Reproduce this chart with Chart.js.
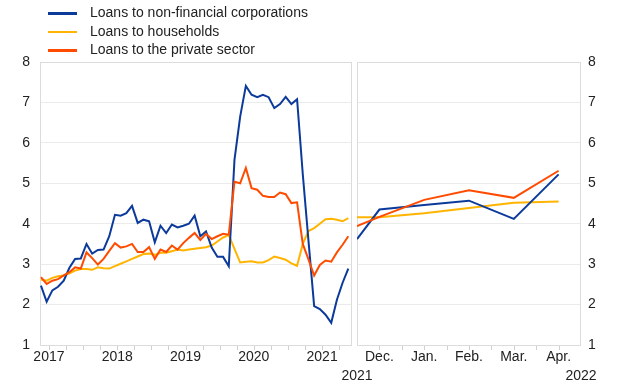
<!DOCTYPE html>
<html>
<head>
<meta charset="utf-8">
<script src="https://cdn.jsdelivr.net/npm/chart.js@4.4.1/dist/chart.umd.min.js"></script>
<style>
  body { margin: 0; background: #fff; width: 620px; height: 387px; overflow: hidden; position: relative;
         font-family: "Liberation Sans", Arial, sans-serif; }
  #left { position: absolute; left: 0; top: 0; }
  #right { position: absolute; left: 330px; top: 0; }
  .legend { position: absolute; left: 48px; top: 3px; font-size: 14px; color: #222; }
  .legend div { height: 18.5px; line-height: 18.5px; white-space: nowrap; }
  .legend span { display: inline-block; width: 29px; height: 2.5px; vertical-align: middle; margin-right: 13px; }
</style>
</head>
<body>
<canvas id="left" width="355" height="387"></canvas>
<canvas id="right" width="290" height="387"></canvas>
<div class="legend" id="legend"></div>
<script>
// monthly growth rates, left panel (May 2017 - Nov 2021)
const nfcLeft = [2.47, 2.07, 2.35, 2.44, 2.59, 2.91, 3.13, 3.14, 3.50, 3.26, 3.35, 3.36, 3.69, 4.22, 4.20, 4.26, 4.44, 4.02, 4.10, 4.06,
  3.54, 3.95, 3.77, 3.98, 3.91, 3.95, 4.00, 4.20, 3.69, 3.81, 3.41, 3.18, 3.18, 2.95, 5.58, 6.65, 7.41, 7.19, 7.13, 7.19,
  7.13, 6.86, 6.96, 7.14, 6.96, 7.08, 5.23, 3.58, 1.96, 1.89, 1.75, 1.55, 2.12, 2.54, 2.89]
const hhLeft = [2.62, 2.59, 2.66, 2.70, 2.72, 2.77, 2.84, 2.88, 2.88, 2.86, 2.92, 2.90, 2.89, 2.95, 3.01, 3.07, 3.13, 3.19, 3.25, 3.26,
  3.23, 3.28, 3.28, 3.32, 3.36, 3.34, 3.36, 3.38, 3.40, 3.42, 3.46, 3.56, 3.66, 3.72, 3.38, 3.04, 3.06, 3.07, 3.04, 3.04,
  3.10, 3.19, 3.15, 3.11, 3.02, 2.96, 3.50, 3.82, 3.89, 4.00, 4.11, 4.12, 4.10, 4.06, 4.14]
const psLeft = [2.68, 2.51, 2.59, 2.63, 2.72, 2.80, 2.92, 2.89, 3.29, 3.15, 2.99, 3.13, 3.33, 3.52, 3.41, 3.44, 3.50, 3.30, 3.30, 3.42,
  3.13, 3.36, 3.30, 3.46, 3.36, 3.52, 3.65, 3.77, 3.60, 3.75, 3.62, 3.69, 3.75, 3.73, 5.04, 5.00, 5.38, 4.88, 4.84, 4.69,
  4.66, 4.66, 4.77, 4.73, 4.51, 4.53, 3.50, 3.12, 2.72, 2.98, 3.09, 3.06, 3.29, 3.48, 3.69]
const yearLabels = ["2017", "2018", "2019", "2020", "2021"]

// right panel (half-month steps, Dec. 2021 - Apr. 2022)
const rightSteps = [0, 1, 3, 5, 7, 9]
const nfcRight = [3.62, 4.35, 4.46, 4.57, 4.12, 5.22]
const hhRight = [4.16, 4.16, 4.26, 4.39, 4.52, 4.55]
const psRight = [3.94, 4.17, 4.59, 4.83, 4.64, 5.31]
const monthLabels = ["Dec.", "Jan.", "Feb.", "Mar.", "Apr."]
const edgeYears = ["2021", "2022"]

const seriesNames = ["Loans to non-financial corporations", "Loans to households", "Loans to the private sector"]
const seriesColors = ["#0b3a9b", "#ffb400", "#ff4b00"]
const seriesOrder = [2, 3, 1]

Chart.defaults.font.family = '"Liberation Sans", Arial, sans-serif'
Chart.defaults.font.size = 14
Chart.defaults.color = "#222"

const legend = document.getElementById("legend")
seriesNames.forEach((name, k) => {
  const row = document.createElement("div")
  row.innerHTML = `<span style="background:${seriesColors[k]}"></span>${name}`
  legend.appendChild(row)
})

const framePlugin = {
  id: "frame",
  beforeDatasetsDraw (chart) {
    const { ctx, chartArea: a } = chart
    ctx.save()
    ctx.strokeStyle = "#dcdcdc"
    ctx.lineWidth = 1
    ctx.strokeRect(Math.round(a.left) + 0.5, Math.round(a.top) + 0.5,
      Math.round(a.right - a.left) - 1, Math.round(a.bottom - a.top))
    ctx.restore()
  },
  afterDraw (chart, args, opts) {
    const { ctx, chartArea: a } = chart
    const x = chart.scales.x
    ctx.save()
    ctx.strokeStyle = "#d0d0d0"
    ctx.lineWidth = 1
    ;(opts.marks || []).forEach(v => {
      const px = Math.round(x.getPixelForValue(v)) + 0.5
      ctx.beginPath()
      ctx.moveTo(px, a.bottom + 1)
      ctx.lineTo(px, a.bottom + 5)
      ctx.stroke()
    })
    ctx.restore()
  }
}

function makeSets (values, xs) {
  return values.map((vals, k) => ({
    label: seriesNames[k],
    data: vals.map((v, i) => ({ x: xs ? xs[i] : i, y: v })),
    borderColor: seriesColors[k],
    borderWidth: 2,
    pointRadius: 0,
    tension: 0,
    order: seriesOrder[k]
  }))
}

const yAxis = (position, pad, width) => ({
  position,
  min: 1,
  max: 8,
  ticks: { stepSize: 1, padding: pad },
  grid: { color: "#ebebeb", drawTicks: false },
  border: { display: false },
  afterFit: s => { s.width = width }
})

new Chart(document.getElementById("left"), {
  type: "line",
  data: { datasets: makeSets([nfcLeft, hhLeft, psLeft]) },
  options: {
    responsive: false,
    animation: false,
    layout: { padding: { top: 62, right: 3, left: 0, bottom: 0 } },
    plugins: {
      legend: { display: false },
      tooltip: { enabled: false },
      frame: { marks: [1.4, 4.4, 7.4, 10.4, 13.4, 16.4, 19.4, 22.4, 25.4, 28.4, 31.4, 34.4, 37.4, 40.4, 43.4, 46.4, 49.4, 52.4] }
    },
    scales: {
      x: {
        type: "linear",
        min: -0.17,
        max: 54.65,
        grid: { display: false, drawTicks: false },
        border: { display: false },
        afterBuildTicks: s => { s.ticks = yearLabels.map((l, k) => ({ value: 1.4 + 12 * k })) },
        ticks: { autoSkip: false, maxRotation: 0, padding: 4, callback: (v, i) => yearLabels[i] },
        afterFit: s => { s.height = 42 }
      },
      y: yAxis("left", 10, 40)
    }
  },
  plugins: [framePlugin]
})

new Chart(document.getElementById("right"), {
  type: "line",
  data: { datasets: makeSets([nfcRight, hhRight, psRight], rightSteps) },
  options: {
    responsive: false,
    animation: false,
    layout: { padding: { top: 62, right: 0, left: 27, bottom: 0 } },
    plugins: {
      legend: { display: false },
      tooltip: { enabled: false },
      frame: { marks: [1, 2, 3, 4, 5, 6, 7, 8, 9] }
    },
    scales: {
      x: {
        type: "linear",
        min: 0,
        max: 10,
        grid: { display: false, drawTicks: false },
        border: { display: false },
        afterBuildTicks: s => { s.ticks = monthLabels.map((l, k) => ({ value: 1 + 2 * k })) },
        ticks: { autoSkip: false, maxRotation: 0, padding: 4, callback: (v, i) => monthLabels[i] },
        afterFit: s => { s.height = 20 }
      },
      x2: {
        type: "linear",
        position: "bottom",
        min: 0,
        max: 10,
        grid: { display: false, drawTicks: false },
        border: { display: false },
        afterBuildTicks: s => { s.ticks = [{ value: 0 }, { value: 10 }] },
        ticks: { autoSkip: false, maxRotation: 0, padding: 3, callback: (v, i) => edgeYears[i] },
        afterFit: s => { s.height = 22 }
      },
      y: yAxis("right", 7, 39)
    }
  },
  plugins: [framePlugin]
})
</script>
</body>
</html>
